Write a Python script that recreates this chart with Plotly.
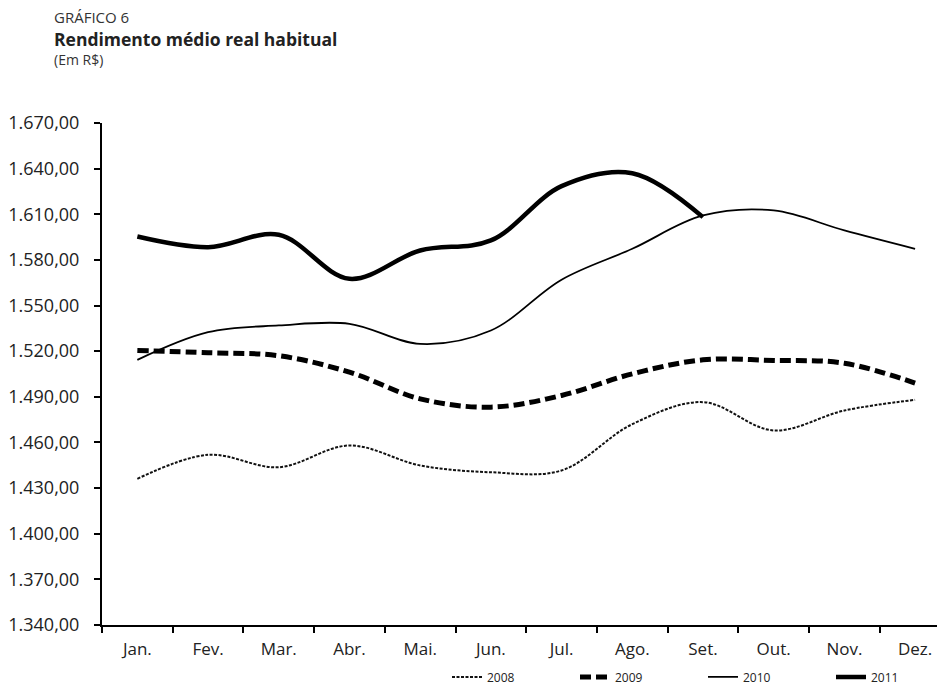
import plotly.graph_objects as go

months = ["Jan.", "Fev.", "Mar.", "Abr.", "Mai.", "Jun.", "Jul.", "Ago.", "Set.", "Out.", "Nov.", "Dez."]
y2008 = [1436.1, 1451.9, 1443.7, 1458.0, 1444.9, 1440.4, 1441.6, 1472.0, 1486.5, 1467.9, 1481.0, 1488.0]
y2009 = [1520.5, 1519.0, 1517.0, 1506.2, 1488.7, 1483.2, 1490.9, 1505.1, 1514.3, 1513.9, 1512.1, 1499.0]
y2010 = [1514.3, 1532.5, 1536.9, 1538.0, 1524.8, 1533.6, 1567.0, 1587.3, 1609.2, 1612.5, 1599.4, 1587.3]
y2011 = [1595.4, 1588.4, 1596.5, 1567.6, 1586.2, 1592.8, 1628.5, 1637.0, 1608.1]
y_ticks = [1340, 1370, 1400, 1430, 1460, 1490, 1520, 1550, 1580, 1610, 1640, 1670]

FONT = "Open Sans, Noto Sans, DejaVu Sans, sans-serif"

fig = go.Figure()
fig.add_trace(go.Scatter(x=months, y=y2008, name="2008", mode="lines",
                         line=dict(color="#111", width=2, dash="3px,1.5px", shape="spline")))
fig.add_trace(go.Scatter(x=months, y=y2009, name="2009", mode="lines",
                         line=dict(color="#000", width=5, dash="11px,5px", shape="spline")))
fig.add_trace(go.Scatter(x=months, y=y2010, name="2010", mode="lines",
                         line=dict(color="#000", width=1.8, shape="spline")))
fig.add_trace(go.Scatter(x=months[:len(y2011)], y=y2011, name="2011", mode="lines",
                         line=dict(color="#000", width=4.5, shape="spline")))

fig.update_layout(
    width=937, height=690,
    margin=dict(l=102, r=0, t=122.5, b=65, autoexpand=False),
    paper_bgcolor="white", plot_bgcolor="white",
    separators=",.",
    font=dict(family=FONT, color="#222", size=17),
    showlegend=True,
    legend=dict(orientation="h", x=(447 - 102) / 835, xanchor="left", y=-(677 - 625) / 502.5, yanchor="middle",
                font=dict(size=12, color="#222"), entrywidth=83, entrywidthmode="pixels",
                bgcolor="rgba(0,0,0,0)", traceorder="normal"),
)
fig.update_xaxes(
    type="category", categoryorder="array", categoryarray=months,
    range=[-0.5, 11.31], tickson="boundaries",
    showline=True, linecolor="#000", linewidth=2,
    ticks="outside", ticklen=6, tickwidth=1.5, tickcolor="#000",
    showgrid=False, zeroline=False, ticklabelstandoff=8,
    tickfont=dict(size=17, color="#222"),
)
fig.update_yaxes(
    range=[1340, 1670], tickvals=y_ticks, tickformat=",.2f",
    showline=True, linecolor="#000", linewidth=2,
    ticks="outside", ticklen=6, tickwidth=1.5, tickcolor="#000",
    showgrid=False, zeroline=False, ticklabelstandoff=11,
    tickfont=dict(size=18, color="#222"),
)

X0 = -(102 - 53) / 835
fig.add_annotation(text="GRÁFICO 6", xref="paper", yref="paper", x=X0, y=1 + (122.5 - 16) / 502.5,
                   xanchor="left", yanchor="middle", showarrow=False, borderpad=0,
                   font=dict(family=FONT, size=15, color="#333"))
fig.add_annotation(text="<b>Rendimento médio real habitual</b>", xref="paper", yref="paper",
                   x=X0, y=1 + (122.5 - 38) / 502.5,
                   xanchor="left", yanchor="middle", showarrow=False, borderpad=0,
                   font=dict(family=FONT, size=17.5, color="#222"))
fig.add_annotation(text="(Em R$)", xref="paper", yref="paper", x=X0, y=1 + (122.5 - 59) / 502.5,
                   xanchor="left", yanchor="middle", showarrow=False, borderpad=0,
                   font=dict(family=FONT, size=14, color="#333"))

fig.write_html("out.html")
